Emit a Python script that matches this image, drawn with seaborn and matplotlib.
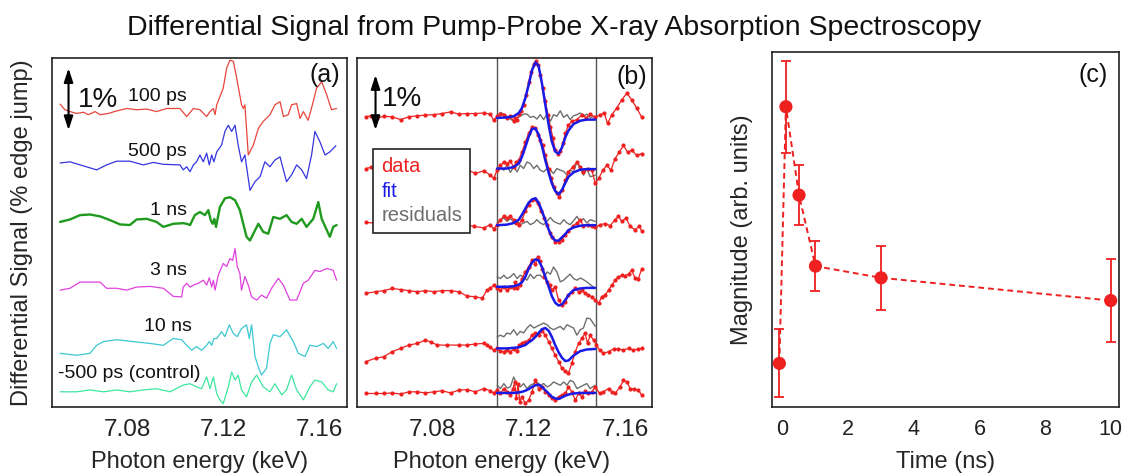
import numpy as np
import matplotlib
matplotlib.use("Agg")
import matplotlib.pyplot as plt
import seaborn as sns
from matplotlib.lines import Line2D
from matplotlib.ticker import FixedLocator

# ---------------- data ----------------
TITLE = "Differential Signal from Pump-Probe X-ray Absorption Spectroscopy"
DELAYS_A = ["100 ps", "500 ps", "1 ns", "3 ns", "10 ns", "-500 ps (control)"]

# Panel (a): (energy keV, differential signal % relative to trace baseline)
A_100PS = [(7.0522,0.11),(7.0542,0.02),(7.0563,-0.01),(7.0591,-0.04),(7.0619,-0.02),(7.0639,-0.06),(7.0667,-0.01),(7.0688,-0.06),(7.0722,-0.04),(7.0757,0.0),(7.0799,0.04),(7.0840,0.02),(7.0882,0.03),(7.0923,-0.01),(7.0965,0.04),(7.1020,0.04),(7.1048,-0.09),(7.1076,0.04),(7.1103,0.02),(7.1131,-0.09),(7.1145,-0.01),(7.1159,0.04),(7.1166,-0.06),(7.1173,0.10),(7.1200,0.37),(7.1214,0.69),(7.1228,0.82),(7.1242,0.80),(7.1256,0.53),(7.1276,0.10),(7.1283,0.04),(7.1290,0.10),(7.1304,-0.71),(7.1325,-0.55),(7.1346,-0.28),(7.1366,-0.17),(7.1394,-0.06),(7.1415,0.10),(7.1436,0.15),(7.1450,-0.09),(7.1470,-0.06),(7.1484,0.10),(7.1505,0.12),(7.1519,-0.12),(7.1533,-0.01),(7.1553,-0.15),(7.1574,0.15),(7.1588,0.37),(7.1609,0.47),(7.1630,0.26),(7.1650,0.02),(7.1671,0.04)]
A_500PS = [(7.0522,0.0),(7.0563,0.02),(7.0605,-0.03),(7.0674,-0.11),(7.0715,-0.03),(7.0757,0.03),(7.0812,0.03),(7.0868,-0.03),(7.0909,0.01),(7.0951,-0.02),(7.1020,-0.03),(7.1034,-0.11),(7.1048,-0.06),(7.1062,-0.14),(7.1076,-0.03),(7.1089,0.02),(7.1103,0.13),(7.1117,0.02),(7.1131,0.16),(7.1142,-0.03),(7.1152,0.13),(7.1161,0.02),(7.1173,0.18),(7.1193,0.29),(7.1207,0.51),(7.1221,0.61),(7.1235,0.51),(7.1249,0.61),(7.1262,0.29),(7.1276,0.02),(7.1290,0.13),(7.1311,-0.44),(7.1332,-0.30),(7.1353,-0.22),(7.1373,0.02),(7.1394,-0.06),(7.1415,0.05),(7.1436,0.10),(7.1450,-0.11),(7.1463,-0.30),(7.1484,-0.19),(7.1505,-0.03),(7.1526,-0.11),(7.1546,-0.25),(7.1567,0.13),(7.1581,0.51),(7.1602,0.34),(7.1623,0.13),(7.1643,0.18),(7.1668,0.28)]
A_1NS = [(7.0522,0.0),(7.0563,0.04),(7.0605,0.11),(7.0646,0.12),(7.0688,0.09),(7.0729,0.03),(7.0771,-0.04),(7.0812,-0.05),(7.0840,0.04),(7.0882,0.05),(7.0923,0.0),(7.0951,-0.08),(7.0992,-0.03),(7.1034,-0.02),(7.1048,-0.03),(7.1062,-0.05),(7.1082,0.11),(7.1103,0.16),(7.1124,0.11),(7.1138,0.19),(7.1148,0.03),(7.1156,-0.03),(7.1163,0.05),(7.1170,-0.08),(7.1186,0.24),(7.1207,0.38),(7.1228,0.40),(7.1249,0.35),(7.1269,0.19),(7.1283,-0.03),(7.1297,-0.24),(7.1311,-0.30),(7.1325,-0.19),(7.1346,-0.03),(7.1366,-0.16),(7.1387,-0.19),(7.1408,0.08),(7.1436,0.05),(7.1463,0.11),(7.1484,0.0),(7.1505,-0.03),(7.1526,0.05),(7.1546,-0.08),(7.1574,0.05),(7.1595,0.32),(7.1609,0.05),(7.1630,-0.13),(7.1643,-0.24),(7.1657,-0.08),(7.1671,-0.05)]
A_3NS = [(7.0522,0.0),(7.0563,0.03),(7.0605,0.13),(7.0688,0.13),(7.0715,0.03),(7.0757,0.03),(7.0799,0.0),(7.0840,0.05),(7.0896,0.06),(7.0951,0.03),(7.0992,-0.10),(7.1027,-0.11),(7.1034,0.05),(7.1048,0.11),(7.1062,0.05),(7.1076,0.08),(7.1096,0.11),(7.1117,0.16),(7.1131,0.08),(7.1142,0.20),(7.1152,0.05),(7.1159,0.16),(7.1166,0.0),(7.1179,0.24),(7.1200,0.43),(7.1214,0.38),(7.1228,0.51),(7.1239,0.48),(7.1249,0.67),(7.1258,0.38),(7.1269,0.27),(7.1276,0.0),(7.1290,0.22),(7.1304,0.08),(7.1318,-0.11),(7.1339,-0.16),(7.1359,-0.08),(7.1380,-0.13),(7.1401,0.03),(7.1429,0.19),(7.1450,0.08),(7.1477,-0.16),(7.1505,-0.16),(7.1533,0.11),(7.1553,0.16),(7.1581,0.32),(7.1602,0.30),(7.1630,0.35),(7.1657,0.32),(7.1671,0.16)]
A_10NS = [(7.0522,0.0),(7.0591,-0.03),(7.0646,0.0),(7.0674,0.13),(7.0702,0.19),(7.0757,0.22),(7.0826,0.19),(7.0896,0.16),(7.0951,0.13),(7.0992,0.24),(7.1027,0.22),(7.1048,0.13),(7.1069,0.05),(7.1089,0.11),(7.1110,0.05),(7.1131,0.13),(7.1142,0.19),(7.1152,0.13),(7.1161,0.24),(7.1173,0.24),(7.1193,0.35),(7.1207,0.27),(7.1225,0.46),(7.1242,0.32),(7.1258,0.27),(7.1276,0.40),(7.1297,0.46),(7.1308,0.24),(7.1318,0.46),(7.1332,-0.05),(7.1346,-0.22),(7.1359,-0.35),(7.1380,-0.24),(7.1394,0.16),(7.1408,0.30),(7.1436,0.27),(7.1463,0.38),(7.1491,0.19),(7.1512,0.0),(7.1540,-0.05),(7.1560,0.13),(7.1588,0.11),(7.1616,0.16),(7.1636,0.08),(7.1657,0.19),(7.1671,0.08)]
A_CTRL = [(7.0522,0.0),(7.0591,0.0),(7.0646,0.03),(7.0702,0.0),(7.0757,0.03),(7.0812,0.0),(7.0868,0.03),(7.0923,0.05),(7.0979,0.0),(7.1034,0.11),(7.1062,0.13),(7.1089,0.08),(7.1110,0.05),(7.1131,0.24),(7.1145,0.05),(7.1159,0.24),(7.1173,-0.03),(7.1186,-0.13),(7.1200,-0.19),(7.1221,0.08),(7.1235,0.32),(7.1249,0.19),(7.1262,0.27),(7.1276,0.03),(7.1297,-0.08),(7.1318,0.16),(7.1339,0.27),(7.1366,0.08),(7.1394,0.0),(7.1415,0.13),(7.1443,-0.05),(7.1463,0.03),(7.1484,0.27),(7.1505,0.03),(7.1533,-0.13),(7.1560,0.08),(7.1581,0.19),(7.1609,0.16),(7.1636,0.03),(7.1657,0.0),(7.1671,0.13)]
A_OFFSETS = [4.77, 3.93, 2.98, 1.88, 0.86, 0.24]

# Panel (b): data traces (energy keV, % relative to baseline)
B_D1 = [(7.0524,0.0),(7.0545,0.02),(7.0572,-0.02),(7.0600,0.01),(7.0634,0.0),(7.0669,-0.05),(7.0703,0.0),(7.0738,0.02),(7.0772,0.03),(7.0807,0.04),(7.0841,0.06),(7.0876,0.09),(7.0910,0.05),(7.0945,0.06),(7.0979,0.06),(7.1014,0.07),(7.1041,0.05),(7.1055,-0.06),(7.1069,0.01),(7.1083,0.05),(7.1097,0.04),(7.1110,-0.02),(7.1124,0.01),(7.1138,-0.08),(7.1145,-0.02),(7.1152,-0.05),(7.1159,0.05),(7.1168,0.10),(7.1179,0.22),(7.1190,0.40),(7.1200,0.64),(7.1210,0.82),(7.1221,0.96),(7.1230,1.01),(7.1239,0.95),(7.1248,0.76),(7.1259,0.52),(7.1269,0.28),(7.1280,0.04),(7.1290,-0.18),(7.1301,-0.39),(7.1310,-0.60),(7.1320,-0.68),(7.1331,-0.63),(7.1342,-0.48),(7.1352,-0.30),(7.1365,-0.15),(7.1379,-0.08),(7.1400,-0.05),(7.1421,0.04),(7.1439,-0.02),(7.1455,0.05),(7.1476,-0.01),(7.1496,0.04),(7.1513,0.07),(7.1527,-0.12),(7.1545,0.04),(7.1565,0.16),(7.1586,0.31),(7.1607,0.43),(7.1627,0.31),(7.1648,0.16),(7.1669,-0.01)]
B_D2 = [(7.0524,0.0),(7.0545,0.02),(7.0572,-0.03),(7.0600,-0.02),(7.0634,-0.03),(7.0669,0.03),(7.0703,0.0),(7.0738,0.03),(7.0772,0.0),(7.0807,0.03),(7.0841,0.06),(7.0876,0.03),(7.0910,0.0),(7.0945,-0.02),(7.0979,-0.09),(7.1014,-0.04),(7.1041,-0.12),(7.1055,-0.18),(7.1069,-0.03),(7.1083,0.06),(7.1097,0.12),(7.1110,0.09),(7.1124,0.13),(7.1138,0.03),(7.1149,0.11),(7.1159,0.15),(7.1172,0.30),(7.1186,0.48),(7.1200,0.64),(7.1214,0.76),(7.1228,0.73),(7.1237,0.61),(7.1248,0.52),(7.1259,0.42),(7.1269,0.24),(7.1283,0.0),(7.1294,-0.18),(7.1306,-0.33),(7.1317,-0.45),(7.1327,-0.52),(7.1338,-0.39),(7.1352,-0.21),(7.1365,-0.06),(7.1383,0.03),(7.1400,0.12),(7.1414,0.03),(7.1427,-0.06),(7.1444,0.0),(7.1462,-0.03),(7.1476,-0.27),(7.1490,-0.18),(7.1508,-0.03),(7.1524,0.06),(7.1541,-0.03),(7.1558,0.18),(7.1576,0.30),(7.1593,0.42),(7.1610,0.30),(7.1627,0.33),(7.1648,0.24),(7.1669,0.27)]
B_D3 = [(7.0524,0.0),(7.0559,-0.01),(7.0600,-0.02),(7.0641,0.0),(7.0683,0.0),(7.0724,0.02),(7.0765,-0.01),(7.0807,-0.01),(7.0848,-0.02),(7.0889,-0.01),(7.0931,-0.04),(7.0972,-0.07),(7.1014,-0.10),(7.1041,-0.04),(7.1055,-0.12),(7.1069,-0.04),(7.1083,0.05),(7.1097,0.11),(7.1110,0.08),(7.1124,0.11),(7.1138,0.05),(7.1149,-0.01),(7.1159,-0.04),(7.1172,0.05),(7.1186,0.20),(7.1200,0.32),(7.1214,0.41),(7.1225,0.43),(7.1237,0.35),(7.1251,0.20),(7.1265,0.08),(7.1276,-0.04),(7.1287,-0.19),(7.1296,-0.27),(7.1310,-0.35),(7.1324,-0.35),(7.1338,-0.32),(7.1352,-0.22),(7.1365,-0.16),(7.1383,-0.07),(7.1400,-0.01),(7.1414,0.05),(7.1427,-0.07),(7.1444,-0.04),(7.1462,-0.07),(7.1476,-0.09),(7.1496,-0.04),(7.1517,-0.02),(7.1538,-0.06),(7.1558,0.05),(7.1572,0.11),(7.1586,0.02),(7.1604,0.08),(7.1620,-0.07),(7.1641,-0.13),(7.1659,-0.07),(7.1669,-0.16)]
B_D4 = [(7.0524,0.0),(7.0565,0.03),(7.0600,0.05),(7.0634,0.09),(7.0669,0.07),(7.0703,0.05),(7.0738,0.03),(7.0772,0.05),(7.0807,0.03),(7.0841,0.05),(7.0876,0.05),(7.0910,0.03),(7.0945,-0.05),(7.0979,-0.06),(7.1007,-0.09),(7.1027,0.06),(7.1041,0.09),(7.1055,0.15),(7.1069,0.09),(7.1083,0.06),(7.1097,0.12),(7.1110,0.06),(7.1124,0.12),(7.1138,0.09),(7.1145,0.21),(7.1152,0.09),(7.1163,0.15),(7.1172,0.27),(7.1186,0.39),(7.1200,0.48),(7.1214,0.61),(7.1228,0.53),(7.1237,0.67),(7.1245,0.58),(7.1255,0.45),(7.1265,0.30),(7.1276,0.21),(7.1287,0.15),(7.1296,0.06),(7.1310,0.12),(7.1324,-0.12),(7.1338,-0.21),(7.1352,-0.16),(7.1365,-0.03),(7.1379,0.03),(7.1393,0.09),(7.1407,0.03),(7.1421,0.06),(7.1434,0.0),(7.1448,-0.03),(7.1462,-0.06),(7.1476,-0.12),(7.1490,-0.18),(7.1503,-0.06),(7.1517,-0.03),(7.1531,0.06),(7.1545,0.15),(7.1558,0.24),(7.1572,0.30),(7.1586,0.33),(7.1600,0.32),(7.1614,0.35),(7.1627,0.42),(7.1641,0.28),(7.1655,0.27),(7.1669,0.45)]
B_D5 = [(7.0524,0.0),(7.0565,0.06),(7.0600,0.09),(7.0634,0.18),(7.0669,0.24),(7.0703,0.30),(7.0738,0.33),(7.0772,0.39),(7.0793,0.36),(7.0821,0.30),(7.0862,0.30),(7.0910,0.30),(7.0945,0.30),(7.0979,0.32),(7.1014,0.33),(7.1027,0.30),(7.1041,0.26),(7.1055,0.21),(7.1069,0.24),(7.1083,0.19),(7.1097,0.18),(7.1110,0.21),(7.1124,0.18),(7.1138,0.23),(7.1152,0.19),(7.1159,0.30),(7.1172,0.33),(7.1186,0.36),(7.1200,0.39),(7.1214,0.48),(7.1228,0.52),(7.1241,0.48),(7.1255,0.56),(7.1269,0.48),(7.1283,0.36),(7.1296,0.24),(7.1310,0.12),(7.1324,0.0),(7.1338,-0.12),(7.1352,-0.18),(7.1365,-0.21),(7.1379,-0.03),(7.1393,0.18),(7.1407,0.33),(7.1421,0.42),(7.1434,0.52),(7.1444,0.33),(7.1455,0.48),(7.1469,0.39),(7.1480,0.30),(7.1494,0.21),(7.1510,0.15),(7.1531,0.18),(7.1552,0.23),(7.1572,0.23),(7.1593,0.21),(7.1614,0.24),(7.1634,0.21),(7.1655,0.23),(7.1669,0.24)]
B_D6 = [(7.0524,0.0),(7.0565,0.0),(7.0600,0.0),(7.0634,0.01),(7.0669,-0.01),(7.0703,0.03),(7.0738,0.03),(7.0772,0.01),(7.0807,0.03),(7.0841,0.05),(7.0876,0.01),(7.0910,0.06),(7.0945,0.07),(7.0979,0.03),(7.1014,0.09),(7.1041,0.05),(7.1055,0.01),(7.1069,0.06),(7.1083,0.0),(7.1097,0.09),(7.1110,0.03),(7.1124,-0.03),(7.1135,0.09),(7.1142,0.21),(7.1149,-0.09),(7.1156,0.18),(7.1163,-0.15),(7.1172,-0.06),(7.1186,-0.18),(7.1200,-0.12),(7.1214,0.03),(7.1228,0.24),(7.1241,0.09),(7.1255,0.12),(7.1269,0.03),(7.1283,-0.03),(7.1296,-0.09),(7.1310,-0.12),(7.1324,-0.06),(7.1338,-0.03),(7.1352,0.0),(7.1365,0.12),(7.1379,0.03),(7.1393,-0.12),(7.1407,0.0),(7.1421,-0.06),(7.1434,0.04),(7.1448,0.0),(7.1462,0.03),(7.1476,0.12),(7.1494,0.0),(7.1510,0.03),(7.1531,0.09),(7.1545,0.03),(7.1558,0.0),(7.1579,0.12),(7.1593,0.24),(7.1607,0.21),(7.1621,0.09),(7.1637,0.08),(7.1655,0.06),(7.1669,-0.03)]
B_OFFSETS = [5.27, 4.33, 3.35, 2.06, 0.82, 0.24]

# Panel (b): fits sampled inside the fit window
FIT_E = [7.1069, 7.1110, 7.1138, 7.1159, 7.1172, 7.1186, 7.1200, 7.1214, 7.1228, 7.1241, 7.1255, 7.1269,
         7.1283, 7.1296, 7.1310, 7.1324, 7.1338, 7.1352, 7.1365, 7.1386, 7.1414, 7.1441, 7.1476]
FIT_1 = [-0.02,-0.01,0.01,0.07,0.16,0.34,0.58,0.85,0.99,0.93,0.61,0.22,-0.15,-0.45,-0.63,-0.67,-0.56,-0.37,-0.25,-0.13,-0.07,-0.05,-0.05]
FIT_2 = [0.0,0.0,0.03,0.09,0.21,0.39,0.58,0.72,0.73,0.62,0.41,0.15,-0.08,-0.27,-0.41,-0.47,-0.39,-0.26,-0.15,-0.07,-0.02,-0.01,-0.01]
FIT_3 = [-0.05,-0.04,-0.01,0.05,0.14,0.25,0.36,0.42,0.44,0.36,0.21,0.04,-0.13,-0.26,-0.33,-0.33,-0.27,-0.21,-0.14,-0.09,-0.06,-0.05,-0.05]
FIT_4 = [0.12,0.12,0.13,0.16,0.20,0.30,0.45,0.56,0.62,0.60,0.48,0.30,0.12,-0.05,-0.17,-0.22,-0.20,-0.12,-0.03,0.06,0.09,0.10,0.10]
FIT_5 = [0.24,0.24,0.25,0.26,0.28,0.30,0.35,0.39,0.45,0.52,0.59,0.61,0.56,0.45,0.30,0.17,0.07,0.01,0.02,0.11,0.19,0.22,0.23]
FIT_6 = [0.01,0.01,0.01,0.02,0.03,0.05,0.08,0.12,0.15,0.16,0.12,0.06,0.0,-0.06,-0.09,-0.10,-0.07,-0.04,-0.02,0.0,0.01,0.01,0.01]

# Panel (b): residuals (shifted, as drawn)
RES_E = [7.1069, 7.1083, 7.1097, 7.1110, 7.1124, 7.1138, 7.1152, 7.1165, 7.1179, 7.1193, 7.1207, 7.1221, 7.1234, 7.1248, 7.1262,
         7.1276, 7.1290, 7.1303, 7.1317, 7.1331, 7.1345, 7.1359, 7.1372, 7.1386, 7.1400, 7.1414, 7.1427, 7.1441, 7.1455, 7.1476]
RES_1 = [0.01,0.08,0.05,0.01,-0.04,-0.08,-0.02,0.01,0.05,0.05,-0.01,0.01,-0.04,0.04,-0.05,0.05,-0.08,0.04,0.01,0.11,-0.01,0.04,-0.05,0.02,0.04,0.07,0.01,0.05,-0.01,0.01]
RES_2 = [-0.05,0.01,-0.03,0.06,-0.07,0.03,-0.06,0.06,0.0,0.12,0.09,0.0,0.06,-0.03,-0.06,0.0,-0.03,-0.09,0.0,-0.03,-0.05,-0.12,-0.03,-0.06,0.12,0.0,-0.12,0.0,-0.15,-0.12]
RES_3 = [-0.01,0.05,0.08,0.02,0.07,0.01,0.03,-0.04,-0.01,0.02,-0.04,-0.01,0.05,-0.01,-0.04,0.02,0.09,0.02,-0.01,-0.03,0.05,-0.01,-0.04,0.03,0.11,0.02,0.07,-0.01,0.05,0.02]
RES_4 = [0.30,0.27,0.33,0.27,0.30,0.36,0.27,0.33,0.30,0.24,0.35,0.27,0.33,0.33,0.27,0.39,0.35,0.48,0.39,0.21,0.24,0.30,0.35,0.27,0.24,0.28,0.25,0.21,0.16,0.09]
RES_5 = [0.45,0.48,0.45,0.52,0.50,0.58,0.48,0.55,0.52,0.61,0.67,0.61,0.64,0.67,0.70,0.67,0.61,0.58,0.61,0.64,0.58,0.67,0.64,0.61,0.48,0.58,0.61,0.79,0.78,0.64]
RES_6 = [0.15,0.09,0.18,0.10,0.12,0.30,0.15,0.12,0.18,0.09,0.15,0.18,0.21,0.15,0.18,0.12,0.15,0.21,0.18,0.15,0.21,0.15,0.24,0.21,0.09,0.12,0.15,0.18,0.09,0.15]
FIT_WINDOW = [7.107, 7.148]

# Panel (c)
TIME_NS = [-0.1, 0.1, 0.5, 1.0, 3.0, 10.0]
MAGNITUDE = [0.122, 0.845, 0.596, 0.396, 0.363, 0.299]
MAG_ERR = [0.096, 0.130, 0.085, 0.070, 0.090, 0.116]

# ---------------- style ----------------
sns.set_theme(style="white")
plt.rcParams['font.family'] = ['Liberation Sans', 'DejaVu Sans']
plt.rcParams.update({
    'xtick.direction': 'in', 'ytick.direction': 'in',
    'axes.edgecolor': '#222222', 'axes.linewidth': 1.2,
    'xtick.color': '#222222', 'text.color': '#111111',
})

A_COLORS = ['#e8453c', '#3535e0', '#1f9a1f', '#e040e0', '#3cc8d2', '#3ee6a0']
A_LW = [0.9, 0.9, 1.7, 0.9, 0.9, 0.9]
RED = '#ee2020'
BLUE = '#1a1ae6'
GRAY = '#6e6e6e'

fig = plt.figure(figsize=(11.26, 4.73), dpi=100)
axA = fig.add_axes([0.0459, 0.1402, 0.2620, 0.7366])
axB = fig.add_axes([0.3168, 0.1402, 0.2626, 0.7366])
axC = fig.add_axes([0.6853, 0.1402, 0.3084, 0.7505])

fig.text(0.492, 1 - 35 / 473, TITLE, ha='center', va='baseline', fontsize=20.5)


def line(ax, x, y, **kw):
    sns.lineplot(x=np.asarray(x), y=np.asarray(y), ax=ax, estimator=None, sort=False, **kw)


def style_energy_axis(ax):
    ax.set_xlim(7.0487, 7.1713)
    ax.xaxis.set_major_locator(FixedLocator([7.08, 7.12, 7.16]))
    ax.xaxis.set_minor_locator(FixedLocator([7.06, 7.10, 7.14]))
    ax.set_xticklabels(['7.08', '7.12', '7.16'])
    ax.set_yticks([])
    ax.tick_params(axis='x', which='major', length=6, width=1.2, labelsize=17.5, pad=8.8)
    ax.tick_params(axis='x', which='minor', length=4, width=1.2)
    ax.set_xlabel('Photon energy (keV)', fontsize=17)
    for s in ax.spines.values():
        s.set_linewidth(1.2)


# ---------------- panel (a) ----------------
traces_a = [A_100PS, A_500PS, A_1NS, A_3NS, A_10NS, A_CTRL]
for pts, off, c, lw in zip(traces_a, A_OFFSETS, A_COLORS, A_LW):
    arr = np.array(pts)
    line(axA, arr[:, 0], arr[:, 1] + off, color=c, lw=lw)
axA.set_ylim(0, 5.62)
style_energy_axis(axA)
axA.xaxis.set_label_coords(0.5, -0.128)
axA.set_ylabel('Differential Signal (% edge jump)', fontsize=17)
axA.yaxis.set_label_coords(-0.063, 0.5)

label_pos = [(7.1049, 5.00, 'right'), (7.1049, 4.11, 'right'), (7.1049, 3.17, 'right'),
             (7.1049, 2.20, 'right'), (7.1069, 1.29, 'right'), (7.0513, 0.54, 'left')]
for name, (x, y, ha) in zip(DELAYS_A, label_pos):
    axA.text(x, y, name, ha=ha, va='center', fontsize=14)

axA.annotate('', xy=(7.0557, 5.46), xytext=(7.0557, 4.46),
             arrowprops=dict(arrowstyle='<|-|>,head_length=0.55,head_width=0.18',
                             color='black', lw=1.5, mutation_scale=15, shrinkA=0, shrinkB=0))
axA.text(7.0596, 4.95, '1%', ha='left', va='center', fontsize=20)
axA.text(0.977, 0.952, '(a)', transform=axA.transAxes, ha='right', va='center', fontsize=18)

# ---------------- panel (b) ----------------
data_b = [B_D1, B_D2, B_D3, B_D4, B_D5, B_D6]
fits_b = [FIT_1, FIT_2, FIT_3, FIT_4, FIT_5, FIT_6]
res_b = [RES_1, RES_2, RES_3, RES_4, RES_5, RES_6]
for lim in FIT_WINDOW:
    axB.axvline(lim, color='#555555', lw=1.0, zorder=1)
for pts, fit, res, off in zip(data_b, fits_b, res_b, B_OFFSETS):
    line(axB, RES_E, np.array(res) + off, color=GRAY, lw=1.0, zorder=2)
    arr = np.array(pts)
    line(axB, arr[:, 0], arr[:, 1] + off, color=RED, lw=0.9, marker='o',
         markersize=3, markeredgewidth=0, zorder=3)
    line(axB, FIT_E, np.array(fit) + off, color=BLUE, lw=1.8, zorder=4)
axB.set_ylim(0, 6.335)
style_energy_axis(axB)
axB.xaxis.set_label_coords(0.49, -0.128)

axB.annotate('', xy=(7.0565, 6.03), xytext=(7.0565, 5.03),
             arrowprops=dict(arrowstyle='<|-|>,head_length=0.55,head_width=0.18',
                             color='black', lw=1.5, mutation_scale=15, shrinkA=0, shrinkB=0))
axB.text(7.0593, 5.59, '1%', ha='left', va='center', fontsize=20)
axB.text(0.981, 0.947, '(b)', transform=axB.transAxes, ha='right', va='center', fontsize=18)

leg_colors = [RED, BLUE, GRAY]
handles = [Line2D([], [], color=c, lw=0) for c in leg_colors]
leg = axB.legend(handles, ['data', 'fit', 'residuals'], loc='upper left',
                 bbox_to_anchor=(0.056, 0.74), borderaxespad=0, handlelength=0,
                 handletextpad=0, labelcolor=leg_colors, fontsize=14.5, frameon=True,
                 fancybox=False, framealpha=1, edgecolor='#222222', borderpad=0.4,
                 labelspacing=0.28)
leg.get_frame().set_linewidth(1.2)
leg.set_zorder(10)

# ---------------- panel (c) ----------------
axC.errorbar(TIME_NS, MAGNITUDE, yerr=MAG_ERR, fmt='none', ecolor=RED, elinewidth=1.3,
             capsize=3.5, capthick=1.3, zorder=2)
line(axC, TIME_NS, MAGNITUDE, color=RED, lw=1.4, linestyle=(0, (3, 2)), zorder=3)
sns.scatterplot(x=TIME_NS, y=MAGNITUDE, ax=axC, color=RED, s=90, edgecolor='none', zorder=4)
axC.set_xlim(-0.335, 10.25)
axC.set_ylim(0, 1)
axC.xaxis.set_major_locator(FixedLocator([0, 2, 4, 6, 8, 10]))
axC.xaxis.set_minor_locator(FixedLocator([1, 3, 5, 7, 9]))
axC.set_yticks([])
axC.tick_params(axis='x', which='major', length=6, width=1.2, labelsize=15.5, pad=9.0)
axC.tick_params(axis='x', which='minor', length=4, width=1.2)
axC.set_xlabel('Time (ns)', fontsize=17)
axC.xaxis.set_label_coords(0.501, -0.125)
axC.set_ylabel('Magnitude (arb. units)', fontsize=17)
axC.yaxis.set_label_coords(-0.053, 0.498)
axC.text(0.968, 0.934, '(c)', transform=axC.transAxes, ha='right', va='center', fontsize=18)
for s in axC.spines.values():
    s.set_linewidth(1.2)

fig.savefig('out.png', dpi=100)
